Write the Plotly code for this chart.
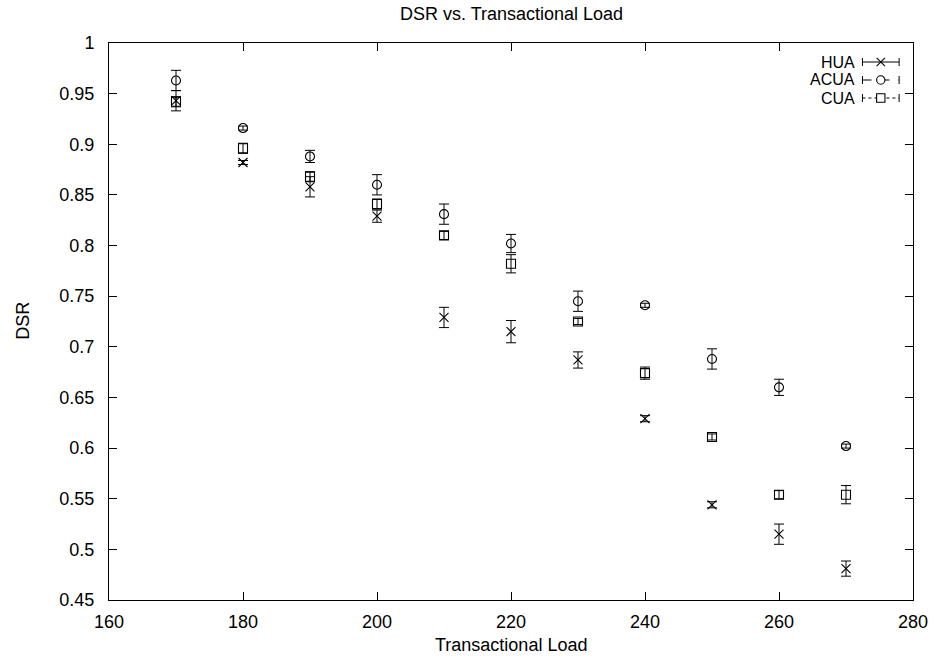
import plotly.graph_objects as go

# ---------------- data ----------------
load = [170, 180, 190, 200, 210, 220, 230, 240, 250, 260, 270]

hua = [0.943, 0.882, 0.858, 0.829, 0.729, 0.715, 0.687, 0.629, 0.544, 0.515, 0.481]
hua_err = [0.010, 0.002, 0.010, 0.006, 0.010, 0.011, 0.008, 0.003, 0.003, 0.010, 0.0075]

acua = [0.963, 0.916, 0.888, 0.860, 0.831, 0.802, 0.745, 0.741, 0.688, 0.660, 0.602]
acua_err = [0.010, 0.002, 0.006, 0.010, 0.010, 0.009, 0.010, 0.002, 0.010, 0.008, 0.002]

cua = [0.942, 0.896, 0.868, 0.841, 0.810, 0.782, 0.725, 0.674, 0.611, 0.554, 0.554]
cua_err = [0.005, 0.005, 0.005, 0.005, 0.004, 0.009, 0.003, 0.006, 0.003, 0.004, 0.009]

series_names = ["HUA", "ACUA", "CUA"]

x_ticks = [160, 180, 200, 220, 240, 260, 280]
y_ticks = [0.45, 0.5, 0.55, 0.6, 0.65, 0.7, 0.75, 0.8, 0.85, 0.9, 0.95, 1]

# ---------------- layout geometry ----------------
W, H = 940, 660
L, R, T, B = 109, 920, 43, 600
FONT = "Liberation Sans, Arial, Helvetica, sans-serif"
FS = 18
FS_KEY = 16

fig = go.Figure()

def add_series(y, err, name, symbol):
    fig.add_trace(go.Scatter(
        x=load, y=y, mode="markers", name=name, showlegend=False,
        marker=dict(symbol=symbol, size=9, color="black",
                    line=dict(color="black", width=1.1)),
        error_y=dict(type="data", array=err, visible=True,
                     color="black", thickness=1, width=5),
    ))

add_series(hua, hua_err, series_names[0], "x-thin")
add_series(acua, acua_err, series_names[1], "circle-open")
add_series(cua, cua_err, series_names[2], "square-open")

# ---------------- custom gnuplot-style key ----------------
def px(xp):
    return (xp - L) / (R - L)

def py(yp):
    return (B - yp) / (B - T)

shapes = []
annotations = []
rows = [62, 80, 98]
dashes = ["solid", "dash", "dot"]
x_text = 862
x0s, x1s, xm = 869, 906, 887.5
for i, name in enumerate(series_names):
    yr = rows[i]
    annotations.append(dict(
        x=px(x_text), y=py(yr), xref="paper", yref="paper",
        text=name, showarrow=False, xanchor="right", yanchor="middle",
        borderpad=0,
        font=dict(family=FONT, size=FS_KEY, color="black")))
    ln = dict(color="black", width=1, dash=dashes[i])
    shapes.append(dict(type="line", xref="paper", yref="paper",
                       x0=px(x0s), x1=px(x1s), y0=py(yr), y1=py(yr), line=ln))
    for xc in (x0s, x1s):
        shapes.append(dict(type="line", xref="paper", yref="paper",
                           x0=px(xc), x1=px(xc), y0=py(yr - 4), y1=py(yr + 4),
                           line=dict(color="black", width=1)))
    r = 4.2
    if i == 0:
        for sgn in (1, -1):
            shapes.append(dict(type="line", xref="paper", yref="paper",
                               x0=px(xm - r), x1=px(xm + r),
                               y0=py(yr - sgn * r), y1=py(yr + sgn * r),
                               line=dict(color="black", width=1.1)))
    elif i == 1:
        shapes.append(dict(type="circle", xref="paper", yref="paper",
                           x0=px(xm - r), x1=px(xm + r), y0=py(yr - r), y1=py(yr + r),
                           line=dict(color="black", width=1.1), fillcolor="white"))
    else:
        shapes.append(dict(type="rect", xref="paper", yref="paper",
                           x0=px(xm - r), x1=px(xm + r), y0=py(yr - r), y1=py(yr + r),
                           line=dict(color="black", width=1.1), fillcolor="white"))

# axis titles and chart title
annotations.append(dict(x=0.5, y=py(645), xref="paper", yref="paper",
                        text="Transactional Load", showarrow=False,
                        xanchor="center", yanchor="middle",
                        font=dict(family=FONT, size=FS, color="black")))
annotations.append(dict(x=px(22), y=py(321), xref="paper", yref="paper",
                        text="DSR", showarrow=False, textangle=-90,
                        xanchor="center", yanchor="middle",
                        font=dict(family=FONT, size=FS, color="black")))
annotations.append(dict(x=0.5, y=py(14), xref="paper", yref="paper",
                        text="DSR vs. Transactional Load", showarrow=False,
                        xanchor="center", yanchor="middle",
                        font=dict(family=FONT, size=FS, color="black")))

axis_common = dict(showline=True, linecolor="black", linewidth=1, mirror="ticks",
                   ticks="inside", ticklen=8, tickcolor="black", tickwidth=1,
                   showgrid=False, zeroline=False,
                   tickfont=dict(family=FONT, size=FS, color="black"))

fig.update_layout(
    width=W, height=H,
    margin=dict(l=L, r=W - R, t=T, b=H - B, pad=0),
    paper_bgcolor="white", plot_bgcolor="white",
    xaxis=dict(range=[160, 280], tickvals=x_ticks, ticklabelstandoff=5,
               ticktext=[str(v) for v in x_ticks], **axis_common),
    yaxis=dict(range=[0.45, 1], tickvals=y_ticks, ticklabelstandoff=10,
               ticktext=[f"{v:g}" for v in y_ticks], **axis_common),
    shapes=shapes, annotations=annotations,
    showlegend=False,
)

fig.write_html("out.html")
